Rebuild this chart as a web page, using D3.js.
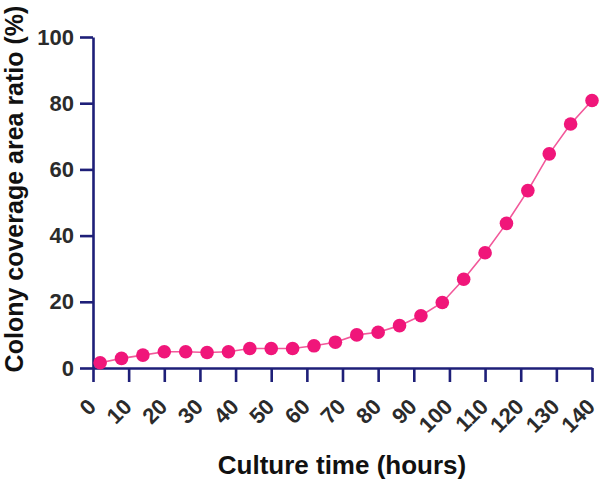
<!DOCTYPE html>
<html>
<head>
<meta charset="utf-8">
<script src="https://cdn.jsdelivr.net/npm/d3@7"></script>
<style>
  body { margin: 0; background: #fff; }
  text { font-family: "Liberation Sans", Arial, sans-serif; font-weight: bold; }
</style>
</head>
<body>
<div class="chart"></div>
<script>
// culture time (hours) and colony coverage (%)
const hours = [2, 8, 14, 20, 26, 32, 38, 44, 50, 56, 62, 68, 74, 80, 86, 92, 98, 104, 110, 116, 122, 128, 134, 140];
const coverage = [1.6, 2.9, 3.9, 4.9, 4.9, 4.7, 4.9, 5.9, 5.9, 5.9, 6.7, 7.8, 10, 10.8, 12.8, 15.8, 19.8, 26.8, 34.8, 43.7, 53.6, 64.7, 73.7, 80.8];
const xTicks = [0, 10, 20, 30, 40, 50, 60, 70, 80, 90, 100, 110, 120, 130, 140];
const yTicks = [0, 20, 40, 60, 80, 100];

const width = 600, height = 482;
const axisColor = "#1e1f78";
const pink = "#f0167a";

const data = hours.map((h, i) => ({ h: h, v: coverage[i] }));

const svg = d3.select(".chart").append("svg")
    .attr("width", width)
    .attr("height", height);

const xScale = d3.scaleLinear().domain([0, 140]).range([93, 592]);
const yScale = d3.scaleLinear().domain([0, 100]).range([368, 37]);

// y axis
const yAxis = svg.append("g")
    .attr("transform", "translate(93,0)")
    .call(d3.axisLeft(yScale).tickValues(yTicks).tickSize(13).tickPadding(6).tickSizeOuter(0));
yAxis.select(".domain").attr("stroke", axisColor).attr("stroke-width", 2.6);
yAxis.selectAll(".tick line").attr("stroke", axisColor).attr("stroke-width", 2.6);
yAxis.selectAll(".tick text")
    .attr("fill", "#2b2b2b")
    .style("font-size", "22px");

// x axis
const xAxis = svg.append("g")
    .attr("transform", "translate(0,368)")
    .call(d3.axisBottom(xScale).tickValues(xTicks).tickSize(14).tickSizeOuter(0));
xAxis.select(".domain").attr("stroke", axisColor).attr("stroke-width", 2.6);
xAxis.selectAll(".tick line").attr("stroke", axisColor).attr("stroke-width", 2.6);
xAxis.selectAll(".tick text")
    .attr("fill", "#2b2b2b")
    .style("font-size", "22px")
    .attr("text-anchor", "end")
    .attr("y", 0).attr("dy", 0)
    .attr("transform", "translate(4,40) rotate(-45)");

// line + points
const line = d3.line()
    .x(d => xScale(d.h))
    .y(d => yScale(d.v));

svg.append("path")
    .datum(data)
    .attr("d", line)
    .attr("fill", "none")
    .attr("stroke", "#f2589a")
    .attr("stroke-width", 1.6);

svg.selectAll(".dot")
    .data(data)
    .enter()
    .append("circle")
    .attr("class", "dot")
    .attr("cx", d => xScale(d.h))
    .attr("cy", d => yScale(d.v))
    .attr("r", 6.8)
    .attr("fill", pink);

// axis titles
svg.append("text")
    .attr("text-anchor", "middle")
    .attr("x", 342)
    .attr("y", 474)
    .attr("fill", "#111")
    .style("font-size", "26px")
    .text("Culture time (hours)");

svg.append("text")
    .attr("text-anchor", "middle")
    .attr("transform", "translate(23,189) rotate(-90)")
    .attr("fill", "#111")
    .style("font-size", "25px")
    .text("Colony coverage area ratio (%)");
</script>
</body>
</html>
